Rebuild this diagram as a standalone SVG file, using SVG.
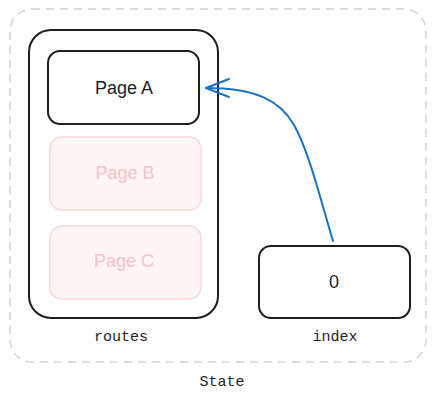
<svg xmlns="http://www.w3.org/2000/svg" width="435" height="402" viewBox="0 0 435 402">
<style>
.box{fill:#fff;stroke:#1e1e1e;stroke-width:2}
.faded{fill:#fff5f5;stroke:#f8d7da;stroke-width:1.5}
.t{font-family:"Liberation Sans",sans-serif;font-size:18px;fill:#1e1e1e;text-anchor:middle;dominant-baseline:central}
.tf{fill:#f5c2c7}
.lbl{font-family:"Liberation Mono",monospace;font-size:15px;fill:#1e1e1e;text-anchor:middle;dominant-baseline:central}
</style>
<rect width="435" height="402" fill="#fff"/>
<g id="state">
<rect x="10" y="9" width="416" height="353" rx="22" fill="none" stroke="#ced4da" stroke-width="1.5" stroke-dasharray="8 6"/>
<text class="lbl" x="222" y="382">State</text>
</g>
<g id="routes">
<rect class="box" x="29" y="30" width="189" height="288" rx="22"/>
<text class="lbl" x="121" y="337">routes</text>
</g>
<g id="pageA">
<rect class="box" x="48" y="51" width="151" height="73" rx="12"/>
<text class="t" x="124" y="88">Page A</text>
</g>
<g id="pageB">
<rect class="faded" x="50" y="137" width="151" height="73" rx="12"/>
<text class="t tf" x="125" y="173">Page B</text>
</g>
<g id="pageC">
<rect class="faded" x="50" y="226" width="151" height="73" rx="12"/>
<text class="t tf" x="124" y="261">Page C</text>
</g>
<g id="index">
<rect class="box" x="259" y="246" width="151" height="72" rx="12"/>
<text class="t" x="334" y="282">0</text>
<text class="lbl" x="335" y="337">index</text>
</g>
<g id="connectors" fill="none" stroke="#1971c2" stroke-width="2" stroke-linecap="round" stroke-linejoin="round">
<path d="M333 241 C318 190 308 150 294 125 C280 100 255 88 206 88"/>
<path d="M229 79 L206 88 L229 97"/>
</g>
</svg>
